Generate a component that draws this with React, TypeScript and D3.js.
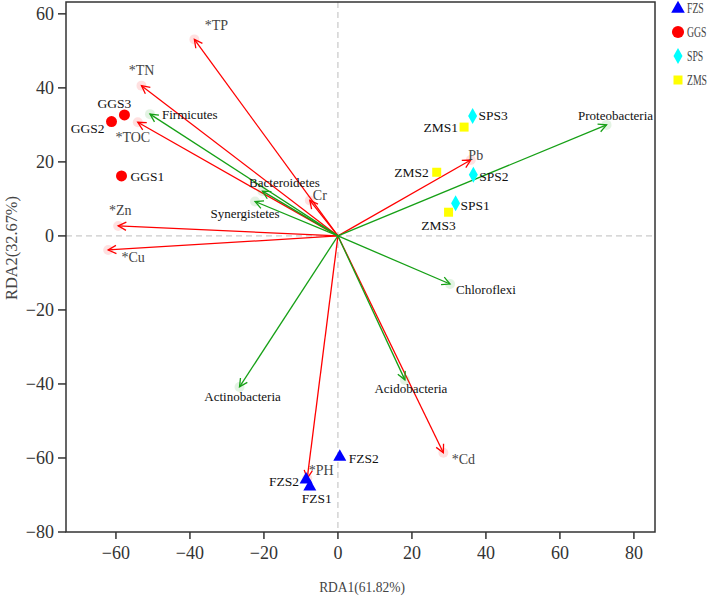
import React from "react";
import * as d3 from "d3";

// ---- data ----
const envNames = ["*TP", "*TN", "*TOC", "Cr", "*Zn", "*Cu", "*PH", "*Cd", "Pb"];
const envX = [-38.8, -53.1, -54.1, -7.6, -59.4, -62.1, -8.3, 28.5, 35.9];
const envY = [53.1, 40.6, 30.7, 9.6, 2.7, -3.8, -65.5, -58.6, 20.5];

const taxaNames = ["Firmicutes", "Bacteroidetes", "Synergistetes", "Actinobacteria", "Acidobacteria", "Chloroflexi", "Proteobacteria"];
const taxaX = [-50.8, -20.4, -22.4, -26.6, 18.1, 30.3, 72.6];
const taxaY = [32.9, 12.1, 9.3, -40.8, -38.9, -13.0, 30.0];

const sampleNames = ["GGS1", "GGS2", "GGS3", "SPS3", "ZMS1", "ZMS2", "SPS2", "SPS1", "ZMS3", "FZS2", "FZS2", "FZS1"];
const sampleGroup = ["GGS", "GGS", "GGS", "SPS", "ZMS", "ZMS", "SPS", "SPS", "ZMS", "FZS", "FZS", "FZS"];
const sampleX = [-58.5, -61.2, -57.7, 36.4, 34.1, 26.7, 36.6, 31.8, 29.9, 0.5, -8.6, -7.6];
const sampleY = [16.2, 30.9, 32.7, 32.4, 29.4, 17.2, 16.5, 8.8, 6.4, -59.5, -65.7, -67.6];

const groups = ["FZS", "GGS", "SPS", "ZMS"];
const xTicks = [-60, -40, -20, 0, 20, 40, 60, 80];
const yTicks = [-80, -60, -40, -20, 0, 20, 40, 60];
const xTitle = "RDA1(61.82%)";
const yTitle = "RDA2(32.67%)";

// ---- layout (label placement, px offsets from the mark) ----
const envLabelPos: Record<string, [number, number, string]> = {
  "*TP": [22, -14, "middle"],
  "*TN": [0, -15, "middle"],
  "*TOC": [-5, 15, "middle"],
  Cr: [10, -5, "middle"],
  "*Zn": [2, -15, "middle"],
  "*Cu": [25, 8, "middle"],
  "*PH": [14, -8, "middle"],
  "*Cd": [20, 7, "middle"],
  Pb: [5, -5, "middle"],
};
const taxaLabelPos: Record<string, [number, number, string]> = {
  Firmicutes: [12, 0, "start"],
  Bacteroidetes: [22, -9, "middle"],
  Synergistetes: [-10, 12, "middle"],
  Actinobacteria: [3, 10, "middle"],
  Acidobacteria: [6, 9, "middle"],
  Chloroflexi: [6, 5, "start"],
  Proteobacteria: [9, -9, "middle"],
};
const sampleLabelPos: [number, number, string][] = [
  [9, 1, "start"],
  [-7, 7, "end"],
  [-10, -11, "middle"],
  [6, 0, "start"],
  [-6, 0, "end"],
  [-8, 0, "end"],
  [6, 2, "start"],
  [5, 2, "start"],
  [-10, 13, "middle"],
  [9, 2, "start"],
  [-7, 2, "end"],
  [7, 12, "middle"],
];

const groupColor: Record<string, string> = {
  FZS: "#0000ff",
  GGS: "#ff0000",
  SPS: "#00ffff",
  ZMS: "#ffff00",
};

const RED = "#ff0000";
const GREEN = "#16a016";
const SERIF = "'Liberation Serif', 'Times New Roman', serif";
const CJKLIKE = "'Liberation Serif', serif";

function markerPath(g: string): string {
  if (g === "FZS") return "M0,-7L6.5,4.5L-6.5,4.5Z";
  if (g === "SPS") return "M0,-8L4.5,0L0,8L-4.5,0Z";
  if (g === "ZMS") return "M-4.5,-4.5L4.5,-4.5L4.5,4.5L-4.5,4.5Z";
  return d3.arc()({ innerRadius: 0, outerRadius: 5.5, startAngle: 0, endAngle: 2 * Math.PI }) as string;
}

function Arrow({ x0, y0, x1, y1, color }: { x0: number; y0: number; x1: number; y1: number; color: string }) {
  const ang = Math.atan2(y1 - y0, x1 - x0);
  const len = 9;
  const a = (27 * Math.PI) / 180;
  const p1 = [x1 - len * Math.cos(ang - a), y1 - len * Math.sin(ang - a)];
  const p2 = [x1 - len * Math.cos(ang + a), y1 - len * Math.sin(ang + a)];
  return (
    <g>
      <circle cx={x1} cy={y1} r={5} fill={color} opacity={0.12} />
      <line x1={x0} y1={y0} x2={x1} y2={y1} stroke={color} strokeWidth={1.3} />
      <path d={`M${p1[0]},${p1[1]}L${x1},${y1}L${p2[0]},${p2[1]}`} fill="none" stroke={color} strokeWidth={1.3} />
    </g>
  );
}

export default function App() {
  const W = 709;
  const H = 600;
  const left = 66, right = 655, top = 2, bottom = 532;
  const x = d3.scaleLinear().domain([-73.5, 85.7]).range([left, right]);
  const y = d3.scaleLinear().domain([-80, 63.2]).range([bottom, top]);
  const fmt = d3.format("");

  return (
    <svg width={W} height={H} style={{ position: "absolute", left: 0, top: 0 }}>
      <rect width={W} height={H} fill="#fff" />
      {/* zero lines */}
      <line x1={x(0)} x2={x(0)} y1={top} y2={bottom} stroke="#bdbdbd" strokeDasharray="6,4" />
      <line x1={left} x2={right} y1={y(0)} y2={y(0)} stroke="#bdbdbd" strokeDasharray="6,4" />

      {/* arrows */}
      {envNames.map((n, i) => (
        <Arrow key={"e" + i} x0={x(0)} y0={y(0)} x1={x(envX[i])} y1={y(envY[i])} color={RED} />
      ))}
      {taxaNames.map((n, i) => (
        <Arrow key={"t" + i} x0={x(0)} y0={y(0)} x1={x(taxaX[i])} y1={y(taxaY[i])} color={GREEN} />
      ))}

      {/* samples */}
      {sampleNames.map((n, i) => (
        <path key={"s" + i} d={markerPath(sampleGroup[i])} transform={`translate(${x(sampleX[i])},${y(sampleY[i])})`} fill={groupColor[sampleGroup[i]]} />
      ))}

      {/* labels */}
      {envNames.map((n, i) => {
        const p = envLabelPos[n];
        return (
          <text key={"el" + i} x={x(envX[i]) + p[0]} y={y(envY[i]) + p[1]} textAnchor={p[2] as any} dominantBaseline="central" fontFamily={CJKLIKE} fontSize={14} fill="#444">
            {n}
          </text>
        );
      })}
      {taxaNames.map((n, i) => {
        const p = taxaLabelPos[n];
        return (
          <text key={"tl" + i} x={x(taxaX[i]) + p[0]} y={y(taxaY[i]) + p[1]} textAnchor={p[2] as any} dominantBaseline="central" fontFamily={SERIF} fontSize={13} fill="#111">
            {n}
          </text>
        );
      })}
      {sampleNames.map((n, i) => {
        const p = sampleLabelPos[i];
        return (
          <text key={"sl" + i} x={x(sampleX[i]) + p[0]} y={y(sampleY[i]) + p[1]} textAnchor={p[2] as any} dominantBaseline="central" fontFamily={SERIF} fontSize={13.5} fill="#111">
            {n}
          </text>
        );
      })}

      {/* frame */}
      <rect x={left} y={top} width={right - left} height={bottom - top} fill="none" stroke="#333" strokeWidth={1.5} />

      {/* x axis ticks */}
      {xTicks.map((t) => (
        <g key={"xt" + t}>
          <line x1={x(t)} x2={x(t)} y1={bottom} y2={bottom + 7} stroke="#333" strokeWidth={1.5} />
          <text x={x(t)} y={bottom + 21} textAnchor="middle" dominantBaseline="central" fontFamily={SERIF} fontSize={18} fill="#333">
            {fmt(t)}
          </text>
        </g>
      ))}
      {yTicks.map((t) => (
        <g key={"yt" + t}>
          <line x1={left - 8} x2={left} y1={y(t)} y2={y(t)} stroke="#333" strokeWidth={1.5} />
          <text x={left - 12} y={y(t)} textAnchor="end" dominantBaseline="central" fontFamily={SERIF} fontSize={18} fill="#333">
            {fmt(t)}
          </text>
        </g>
      ))}

      {/* axis titles */}
      <text transform="translate(362,587) scale(0.9,1)" textAnchor="middle" dominantBaseline="central" fontFamily={CJKLIKE} fontSize={15} fill="#444">
        {xTitle}
      </text>
      <text transform="translate(12,248) rotate(-90) scale(1.02,1)" textAnchor="middle" dominantBaseline="central" fontFamily={CJKLIKE} fontSize={16} fill="#444">
        {yTitle}
      </text>

      {/* legend */}
      {groups.map((g, i) => (
        <g key={"lg" + g} transform={`translate(678,${8 + i * 24})`}>
          <path d={markerPath(g)} fill={groupColor[g]} transform={g === "FZS" ? "scale(1.05)" : g === "GGS" ? "scale(1.1)" : "scale(1)"} />
          <text transform="translate(9,0) scale(0.65,1)" dominantBaseline="central" fontFamily={CJKLIKE} fontSize={15} fill="#444">
            {g}
          </text>
        </g>
      ))}
    </svg>
  );
}
